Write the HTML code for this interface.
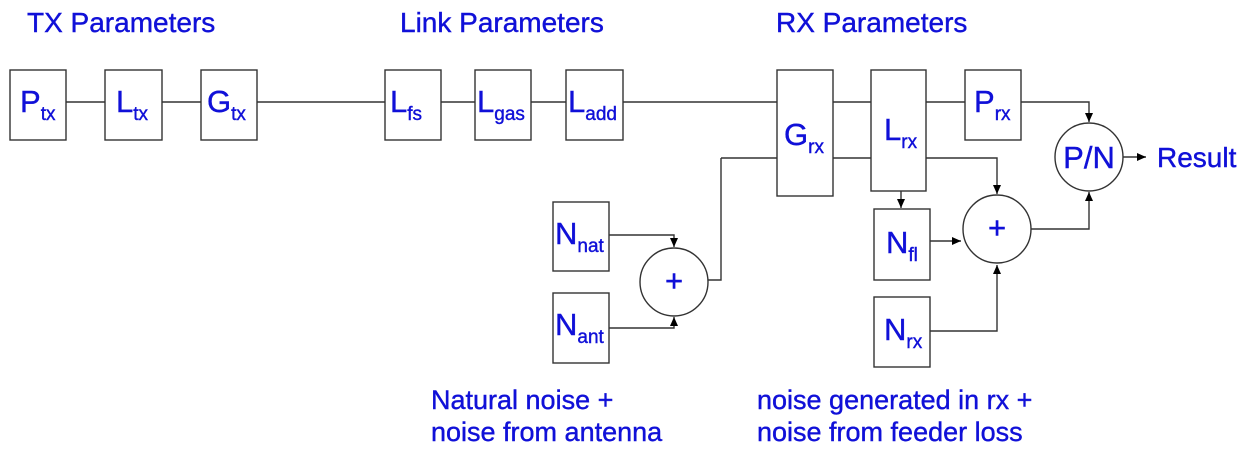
<!DOCTYPE html>
<html><head><meta charset="utf-8"><style>
html,body{margin:0;padding:0;background:#fff;}
svg{display:block;}
text{font-family:"Liberation Sans",Arial,sans-serif;fill:#1010d8;stroke:#1010d8;stroke-width:0.4;}
.t{font-size:28px;}
.b{font-size:27px;}
.m{font-size:31px;}
.s{font-size:19px;}
</style></head><body>
<svg width="1257" height="458" viewBox="0 0 1257 458" xmlns="http://www.w3.org/2000/svg">
<defs>
<marker id="a" markerWidth="10" markerHeight="10" refX="9" refY="5" orient="auto" markerUnits="userSpaceOnUse">
<path d="M0,1 L9,5 L0,9 Z" fill="#000"/></marker>
</defs>
<g stroke="#333" stroke-width="1.4" fill="none">
<line x1="66" y1="102" x2="777" y2="102"/>
<line x1="833" y1="102" x2="965" y2="102"/>
<polyline points="1021,102 1089,102 1089,122" marker-end="url(#a)"/>
<line x1="721" y1="158" x2="871" y2="158"/>
<polyline points="926,158 997,158 997,194" marker-end="url(#a)"/>
<polyline points="609,235 674,235 674,247" marker-end="url(#a)"/>
<polyline points="609,328 674,328 674,317" marker-end="url(#a)"/>
<polyline points="708,280 721,280 721,158"/>
<line x1="901" y1="191" x2="901" y2="208" marker-end="url(#a)"/>
<line x1="930" y1="241" x2="961" y2="241" marker-end="url(#a)"/>
<polyline points="930,331 997,331 997,265" marker-end="url(#a)"/>
<polyline points="1031,229 1089,229 1089,192" marker-end="url(#a)"/>
<line x1="1123" y1="157" x2="1146" y2="157" marker-end="url(#a)"/>
</g>
<g stroke="#333" stroke-width="1.4" fill="#fff">
<rect x="10" y="70" width="56" height="70"/>
<rect x="105" y="70" width="57" height="70"/>
<rect x="201" y="70" width="56" height="70"/>
<rect x="385" y="70" width="56" height="70"/>
<rect x="475" y="70" width="56" height="70"/>
<rect x="566" y="70" width="57" height="70"/>
<rect x="777" y="70" width="56" height="126"/>
<rect x="871" y="70" width="55" height="121"/>
<rect x="965" y="70" width="56" height="70"/>
<rect x="553" y="202" width="56" height="69"/>
<rect x="553" y="293" width="56" height="70"/>
<rect x="874" y="209" width="56" height="71"/>
<rect x="874" y="297" width="56" height="70"/>
<circle cx="674" cy="282" r="34"/>
<circle cx="997" cy="229" r="34"/>
<circle cx="1089" cy="157" r="34"/>
</g>
<text class="t" x="27" y="32">TX Parameters</text>
<text class="t" x="400" y="32">Link Parameters</text>
<text class="t" x="776" y="32">RX Parameters</text>
<text x="20" y="112"><tspan class="m">P</tspan><tspan class="s" dy="8">tx</tspan></text>
<text x="116" y="112"><tspan class="m">L</tspan><tspan class="s" dy="8">tx</tspan></text>
<text x="207" y="112"><tspan class="m">G</tspan><tspan class="s" dy="8">tx</tspan></text>
<text x="390" y="112"><tspan class="m">L</tspan><tspan class="s" dy="8">fs</tspan></text>
<text x="477" y="112"><tspan class="m">L</tspan><tspan class="s" dy="8">gas</tspan></text>
<text x="568" y="112"><tspan class="m">L</tspan><tspan class="s" dy="8">add</tspan></text>
<text x="784" y="145"><tspan class="m">G</tspan><tspan class="s" dy="8">rx</tspan></text>
<text x="884" y="140"><tspan class="m">L</tspan><tspan class="s" dy="8">rx</tspan></text>
<text x="974" y="112"><tspan class="m">P</tspan><tspan class="s" dy="8">rx</tspan></text>
<text x="555" y="244"><tspan class="m">N</tspan><tspan class="s" dy="8">nat</tspan></text>
<text x="555" y="335"><tspan class="m">N</tspan><tspan class="s" dy="8">ant</tspan></text>
<text x="886" y="253"><tspan class="m">N</tspan><tspan class="s" dy="8">fl</tspan></text>
<text x="884" y="340"><tspan class="m">N</tspan><tspan class="s" dy="8">rx</tspan></text>
<text class="m" x="674" y="291" text-anchor="middle">+</text>
<text class="m" x="997" y="238" text-anchor="middle">+</text>
<text class="m" x="1089" y="168" text-anchor="middle">P/N</text>
<text class="t" x="1157" y="167">Result</text>
<text class="b" x="431" y="409">Natural noise +</text>
<text class="b" x="431" y="441">noise from antenna</text>
<text class="b" x="757" y="409">noise generated in rx +</text>
<text class="b" x="757" y="441">noise from feeder loss</text>
</svg>
</body></html>
